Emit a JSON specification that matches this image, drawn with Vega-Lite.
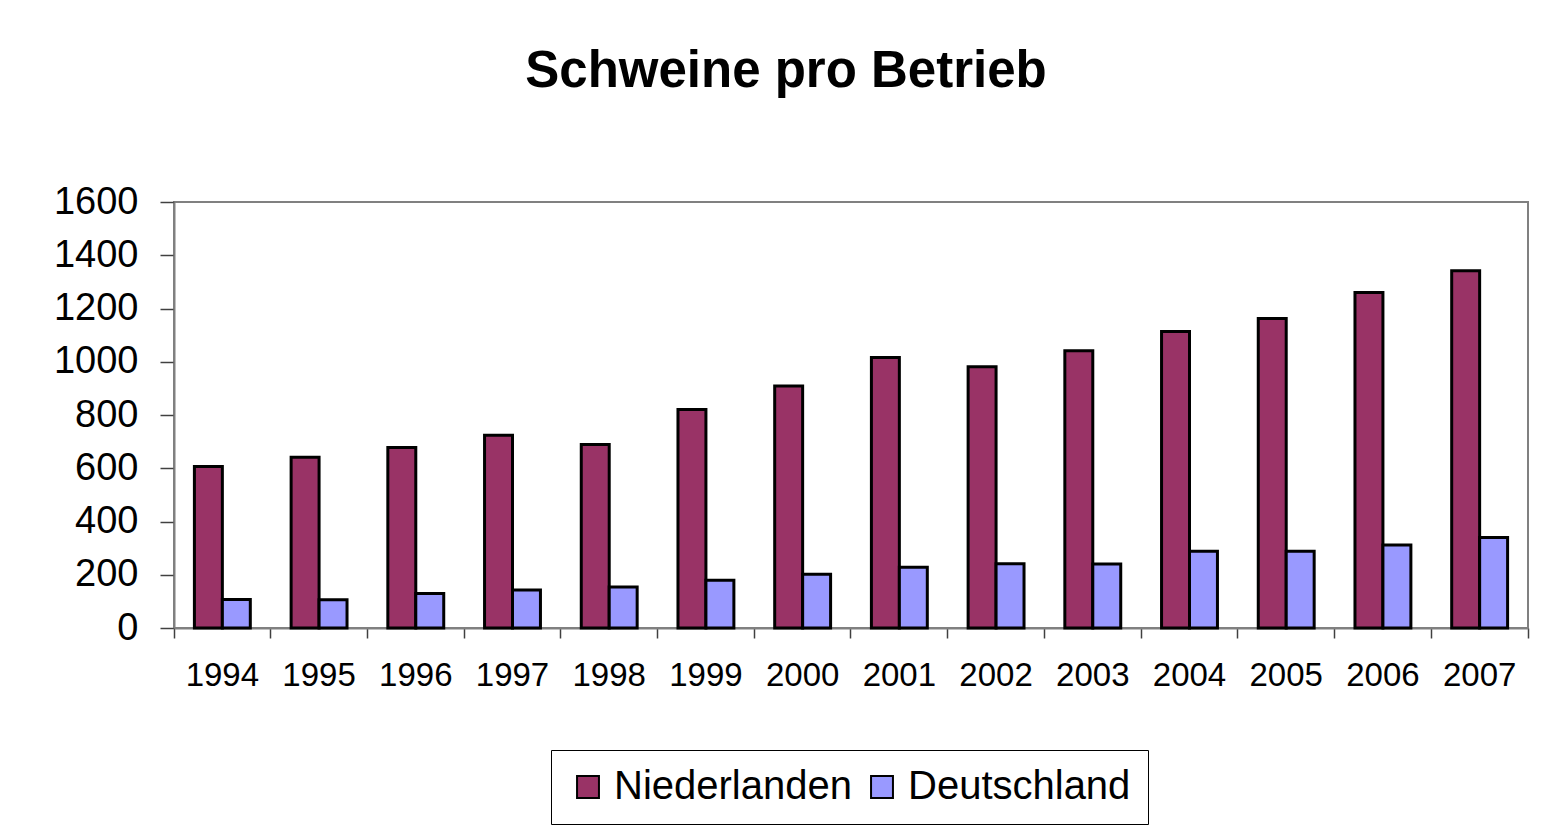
{
  "$schema": "https://vega.github.io/schema/vega-lite/v6.json",
  "width": 1354,
  "height": 426,
  "autosize": {"type": "none"},
  "padding": {"left": 174, "top": 202, "right": 17, "bottom": 204},
  "background": "white",
  "title": {
    "text": "Schweine pro Betrieb",
    "font": "Liberation Sans",
    "fontSize": 51,
    "fontWeight": "bold",
    "color": "black",
    "anchor": "middle",
    "dx": -65,
    "offset": 85
  },
  "data": {
    "values": [
      {"Jahr": "1994", "Land": "Niederlanden", "Schweine": 607},
      {"Jahr": "1994", "Land": "Deutschland", "Schweine": 107},
      {"Jahr": "1995", "Land": "Niederlanden", "Schweine": 641},
      {"Jahr": "1995", "Land": "Deutschland", "Schweine": 106},
      {"Jahr": "1996", "Land": "Niederlanden", "Schweine": 678},
      {"Jahr": "1996", "Land": "Deutschland", "Schweine": 130},
      {"Jahr": "1997", "Land": "Niederlanden", "Schweine": 724},
      {"Jahr": "1997", "Land": "Deutschland", "Schweine": 143},
      {"Jahr": "1998", "Land": "Niederlanden", "Schweine": 689},
      {"Jahr": "1998", "Land": "Deutschland", "Schweine": 154},
      {"Jahr": "1999", "Land": "Niederlanden", "Schweine": 821},
      {"Jahr": "1999", "Land": "Deutschland", "Schweine": 179},
      {"Jahr": "2000", "Land": "Niederlanden", "Schweine": 909},
      {"Jahr": "2000", "Land": "Deutschland", "Schweine": 202},
      {"Jahr": "2001", "Land": "Niederlanden", "Schweine": 1016},
      {"Jahr": "2001", "Land": "Deutschland", "Schweine": 228},
      {"Jahr": "2002", "Land": "Niederlanden", "Schweine": 981},
      {"Jahr": "2002", "Land": "Deutschland", "Schweine": 241},
      {"Jahr": "2003", "Land": "Niederlanden", "Schweine": 1041},
      {"Jahr": "2003", "Land": "Deutschland", "Schweine": 240},
      {"Jahr": "2004", "Land": "Niederlanden", "Schweine": 1114},
      {"Jahr": "2004", "Land": "Deutschland", "Schweine": 288},
      {"Jahr": "2005", "Land": "Niederlanden", "Schweine": 1162},
      {"Jahr": "2005", "Land": "Deutschland", "Schweine": 288},
      {"Jahr": "2006", "Land": "Niederlanden", "Schweine": 1260},
      {"Jahr": "2006", "Land": "Deutschland", "Schweine": 312},
      {"Jahr": "2007", "Land": "Niederlanden", "Schweine": 1342},
      {"Jahr": "2007", "Land": "Deutschland", "Schweine": 340}
    ]
  },
  "mark": {"type": "bar", "stroke": "black", "strokeWidth": 3},
  "encoding": {
    "x": {
      "field": "Jahr",
      "type": "nominal",
      "scale": {"paddingInner": 0, "paddingOuter": 0},
      "axis": {
        "title": null,
        "labelAngle": 0,
        "labelFont": "Liberation Sans",
        "labelFontSize": 33,
        "labelColor": "black",
        "labelPadding": 21,
        "bandPosition": 1,
        "tickExtra": true,
        "labelOffset": 0,
        "tickSize": 10,
        "tickColor": "#404040",
        "tickWidth": 1.5,
        "domainColor": "#808080",
        "domainWidth": 2
      }
    },
    "xOffset": {
      "field": "Land",
      "type": "nominal",
      "sort": ["Niederlanden", "Deutschland"],
      "scale": {"paddingInner": 0, "paddingOuter": 0.73}
    },
    "y": {
      "field": "Schweine",
      "type": "quantitative",
      "scale": {"domain": [0, 1600], "nice": false},
      "axis": {
        "title": null,
        "format": "d",
        "values": [0, 200, 400, 600, 800, 1000, 1200, 1400, 1600],
        "grid": false,
        "labelFont": "Liberation Sans",
        "labelFontSize": 38,
        "labelColor": "black",
        "labelPadding": 22,
        "tickSize": 14,
        "tickColor": "#404040",
        "tickWidth": 1.5,
        "domainColor": "#808080",
        "domainWidth": 2
      }
    },
    "color": {
      "field": "Land",
      "type": "nominal",
      "sort": ["Niederlanden", "Deutschland"],
      "scale": {"domain": ["Niederlanden", "Deutschland"], "range": ["#993366", "#9999FF"]},
      "legend": {
        "title": null,
        "orient": "none",
        "direction": "horizontal",
        "legendX": 377,
        "legendY": 548,
        "strokeColor": "black",
        "padding": 17,
        "labelFont": "Liberation Sans",
        "labelFontSize": 40,
        "labelColor": "black",
        "labelOffset": 6,
        "columnPadding": 10,
        "symbolType": "square",
        "symbolSize": 480,
        "symbolStrokeColor": "black",
        "symbolStrokeWidth": 2,
        "symbolOpacity": 1,
        "labelLimit": 400
      }
    }
  },
  "config": {
    "view": {"stroke": "#808080", "strokeWidth": 2}
  }
}
